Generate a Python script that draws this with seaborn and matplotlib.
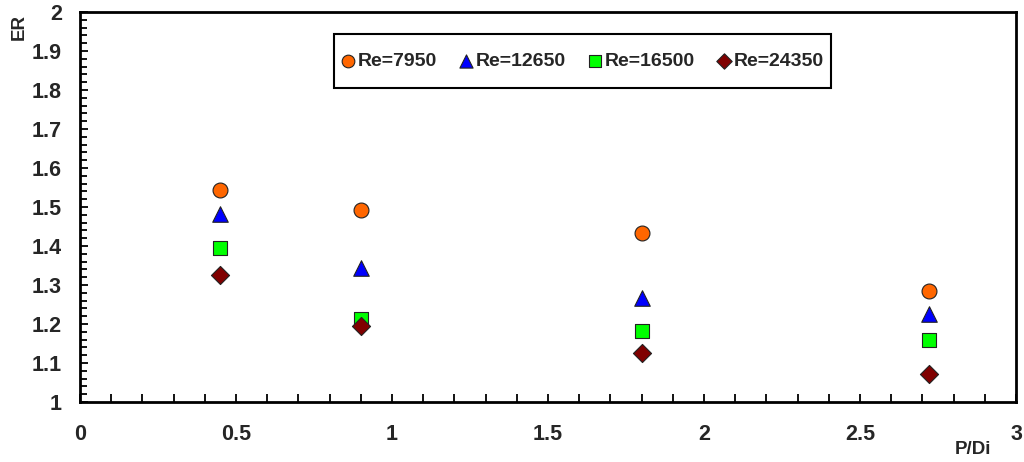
import matplotlib
matplotlib.use("Agg")
import matplotlib.pyplot as plt
from matplotlib.ticker import MultipleLocator, FuncFormatter
from matplotlib.patches import Rectangle
import seaborn as sns
import pandas as pd

p_di = [0.45, 0.9, 1.8, 2.72]
series_names = ["Re=7950", "Re=12650", "Re=16500", "Re=24350"]
er_7950 = [1.543, 1.492, 1.433, 1.285]
er_12650 = [1.482, 1.344, 1.267, 1.226]
er_16500 = [1.394, 1.214, 1.181, 1.158]
er_24350 = [1.325, 1.196, 1.125, 1.073]

values = [er_7950, er_12650, er_16500, er_24350]
rows = []
for name, vals in zip(series_names, values):
    for x, y in zip(p_di, vals):
        rows.append({"P/Di": x, "ER": y, "Re": name})
df = pd.DataFrame(rows)

sns.set_theme(style="white")
plt.rcParams['font.family'] = ['Liberation Sans', 'DejaVu Sans']
plt.rcParams['font.weight'] = 'bold'

fig = plt.figure(figsize=(10.24, 4.62), dpi=100)
ax = fig.add_axes([80/1024, 1-402/462, 936/1024, 390/462])

palette = {"Re=7950": "#FF6600", "Re=12650": "#0000FF", "Re=16500": "#00FF00", "Re=24350": "#800000"}
markers = {"Re=7950": "o", "Re=12650": "^", "Re=16500": "s", "Re=24350": "D"}
sizes = {"Re=7950": 115, "Re=12650": 125, "Re=16500": 105, "Re=24350": 85}

for name in series_names:
    sub = df[df["Re"] == name]
    sns.scatterplot(data=sub, x="P/Di", y="ER", ax=ax, color=palette[name],
                    marker=markers[name], s=sizes[name], edgecolor="#222222",
                    linewidth=0.8, label=name, zorder=3)

ax.set_xlim(0, 3)
ax.set_ylim(1, 2)
ax.xaxis.set_major_locator(MultipleLocator(0.5))
ax.xaxis.set_minor_locator(MultipleLocator(0.1))
ax.yaxis.set_major_locator(MultipleLocator(0.1))
ax.yaxis.set_minor_locator(MultipleLocator(0.02))
ax.xaxis.set_major_formatter(FuncFormatter(lambda v, p: f"{v:g}"))
ax.yaxis.set_major_formatter(FuncFormatter(lambda v, p: f"{v:g}"))

ax.tick_params(axis="both", which="both", direction="in", color="black", width=1.3,
               left=True, bottom=True, top=False, right=False)
ax.tick_params(axis="x", which="major", length=6, pad=16, labelsize=15.5)
ax.tick_params(axis="x", which="minor", length=6)
ax.tick_params(axis="y", which="major", length=6, pad=13, labelsize=15.5)
ax.tick_params(axis="y", which="minor", length=5)
for lab in ax.get_xticklabels() + ax.get_yticklabels():
    lab.set_fontweight("bold")

for sp in ax.spines.values():
    sp.set_color("black")
    sp.set_linewidth(2)

ax.set_xlabel("")
ax.set_ylabel("")
fig.text(19/1024, 1-27/462, "ER", rotation=90, fontsize=13.5, fontweight="bold",
         ha="center", va="center")
fig.text(973/1024, 1-449/462, "P/Di", fontsize=13.5, fontweight="bold",
         ha="center", va="center")

leg = ax.legend(loc="center", bbox_to_anchor=((582.5-80)/936, 1-(61-12)/390),
                ncol=4, frameon=False,
                handletextpad=0.15, columnspacing=1.15, borderpad=0,
                handlelength=0.7, borderaxespad=0,
                prop={"weight": "bold", "size": 14}, markerscale=0.85)
leg.set_zorder(6)

# frame around the legend, with extra vertical padding like the original
fig.canvas.draw()
bb = leg.get_window_extent()
pad_x, pad_y = 7, 18
frame = Rectangle((bb.x0 - pad_x, bb.y0 - pad_y),
                  bb.width + 2 * pad_x, bb.height + 2 * pad_y,
                  transform=None, fill=True, facecolor="white",
                  edgecolor="black", linewidth=1.5, zorder=5, clip_on=False)
ax.add_artist(frame)

fig.savefig("out.png", dpi=100)
